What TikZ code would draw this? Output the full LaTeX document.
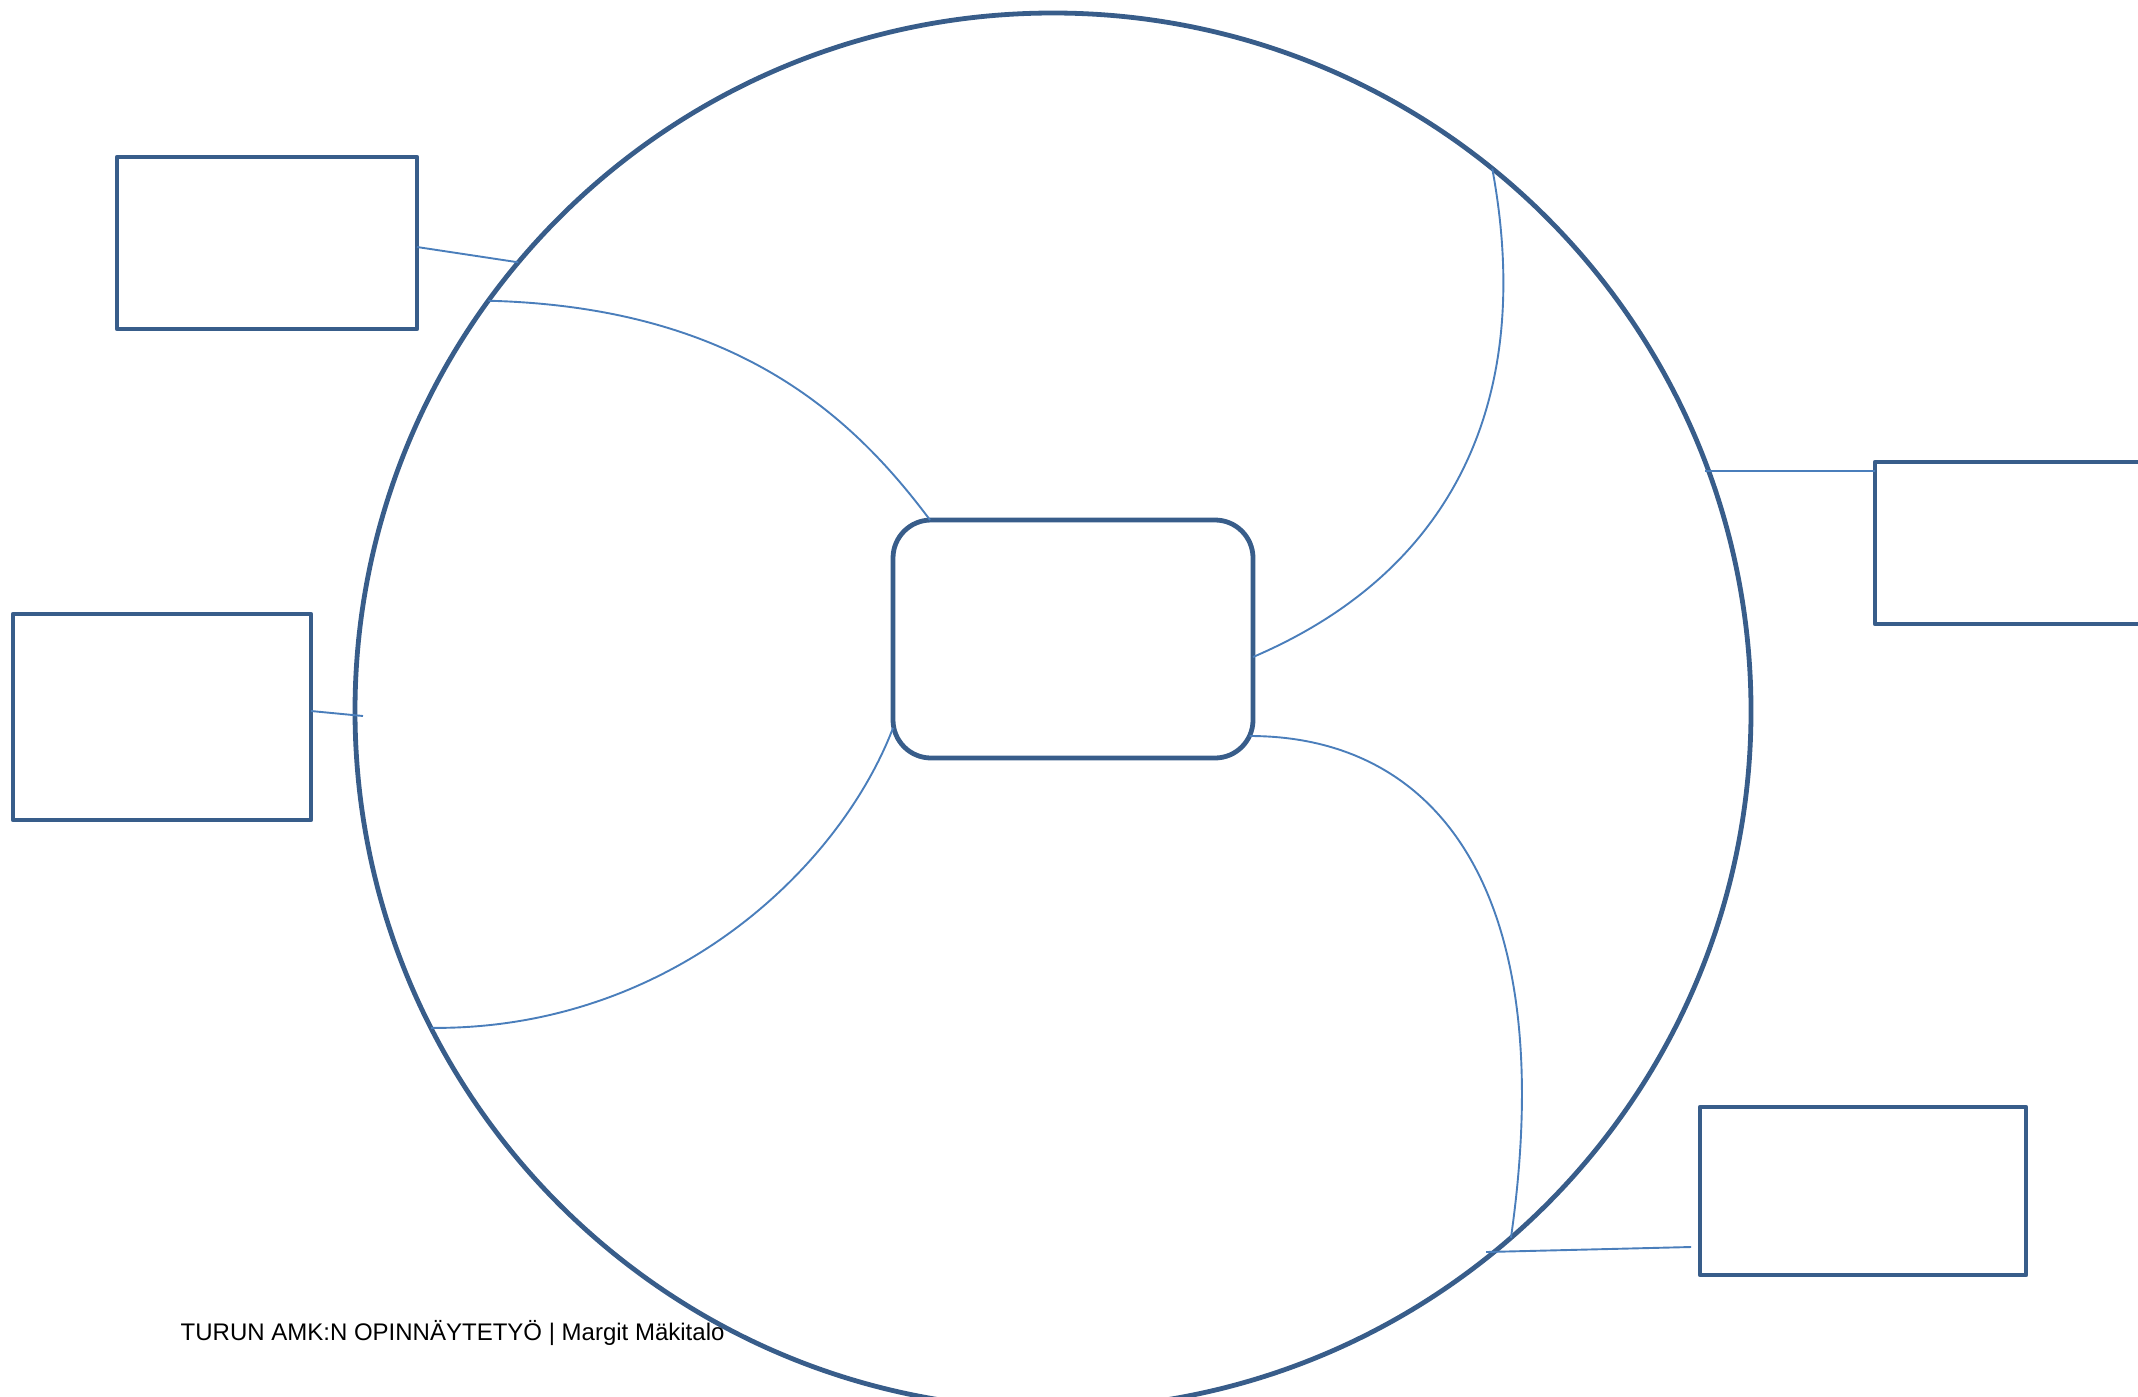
\documentclass[tikz,border=0pt]{standalone}
\usepackage{fontspec}
\setmainfont{Liberation Sans}
\usetikzlibrary{calc}
\definecolor{frame}{HTML}{385D8A}
\definecolor{link}{HTML}{4A7EBB}
\begin{document}
\begin{tikzpicture}[x=0.1mm,y=-0.1mm,
  box/.style={draw=frame,line width=0.48mm,line join=round,fill=none,
    inner sep=0pt,outer sep=0pt},
  ringstyle/.style={draw=frame,line width=0.48mm,circle,inner sep=0pt,outer sep=0pt},
  linkline/.style={draw=link,line width=0.19mm}]
\useasboundingbox (0,0) rectangle (2138,1396);
\clip (0,0) rectangle (2138,1396);

% large ring
\node[ringstyle,minimum size=139.6mm] (ring) at (1053,711) {};

% centre box
\node[box,rounded corners=3.8mm,minimum width=36mm,minimum height=23.8mm] (E) at (1073,639) {};

% outer boxes
\node[box,minimum width=30mm,minimum height=17.2mm] (A) at (267,243) {};
\node[box,minimum width=29.8mm,minimum height=20.6mm] (B) at (162,717) {};
\node[box,minimum width=32.5mm,minimum height=16.2mm] (C) at (2037.5,543) {};
\node[box,minimum width=32.6mm,minimum height=16.8mm] (D) at (1863,1191) {};

% free ends of the short links
\coordinate (bEnd) at (363,716);
\coordinate (cEnd) at (1705,471);
\coordinate (dEnd) at (1486,1252);
\coordinate (dStart) at (1691,1247);

% short links from boxes to the ring
\draw[linkline] ([yshift=-0.4mm]A.east) -- (ring.140.5);
\draw[linkline] ([yshift=0.6mm]B.east) -- (bEnd);
\draw[linkline] ([yshift=-0.9mm]C.north west) -- (cEnd);
\draw[linkline] (dStart) -- (dEnd);

% curved spokes from the ring to the centre box
\draw[linkline] (ring.144.2) .. controls (737,307) and (853,417) .. ([xshift=3.7mm]E.north west);
\draw[linkline] ([yshift=3mm]E.south west) .. controls (839,869) and (670,1030) .. (ring.207.4);
\draw[linkline] (ring.51) .. controls (1534,393) and (1459,569) .. ([yshift=-1.8mm]E.east);
\draw[linkline] ([xshift=-0.35mm,yshift=2.2mm]E.south east) .. controls (1440,736) and (1560,895) .. (ring.-49.3);

% footer
\node[anchor=base west,inner sep=0pt,font=\fontsize{6.83}{8}\selectfont] (footer) at (180,1340)
  {TURUN AMK:N OPINNÄYTETYÖ | Margit Mäkitalo};
\end{tikzpicture}
\end{document}
